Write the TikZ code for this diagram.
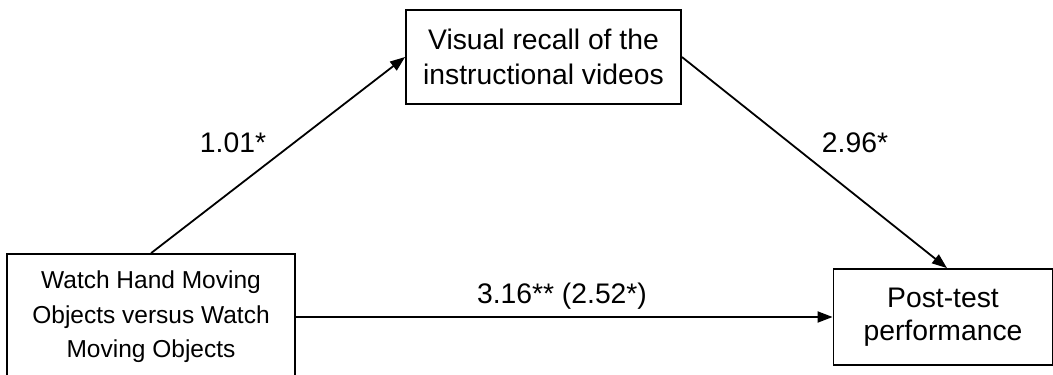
\documentclass[tikz,border=0pt]{standalone}
\usepackage{fontspec}
\setmainfont{Liberation Sans}
\usetikzlibrary{arrows.meta,calc}
\begin{document}
\begin{tikzpicture}[x=1pt,y=-1pt,
  box/.style={draw=black,line width=1.8pt,align=center,inner sep=0pt},
  lab/.style={font=\fontsize{28.3}{34}\selectfont,inner sep=0pt},
  arr/.style={line width=1.8pt,-{Triangle[length=15pt,width=11pt]}}]
\useasboundingbox (0,0) rectangle (1053,375);
\node[box,minimum width=288pt,minimum height=126pt,
  font=\fontsize{24.5}{34.5}\selectfont] (iv) at (151,317)
  {Watch Hand Moving\\Objects versus Watch\\Moving Objects};
\node[box,minimum width=275pt,minimum height=94pt,
  font=\fontsize{28.3}{35}\selectfont] (med) at (543.5,57)
  {Visual recall of the\\instructional videos};
\node[box,minimum width=219pt,minimum height=96pt,
  font=\fontsize{28.3}{33}\selectfont] (dv) at (943,317)
  {Post-test\\performance};
\draw[arr] ([xshift=145pt]iv.north west) -- (med.west);
\draw[arr] (med.east) -- ([xshift=4pt]dv.north);
\draw[arr] (iv.east) -- (dv.west);
\node[lab] (a) at (233,143) {1.01*};
\node[lab] (b) at (855,143) {2.96*};
\node[lab] (c) at (562,296) {3.16** (2.52*)};
\end{tikzpicture}
\end{document}
